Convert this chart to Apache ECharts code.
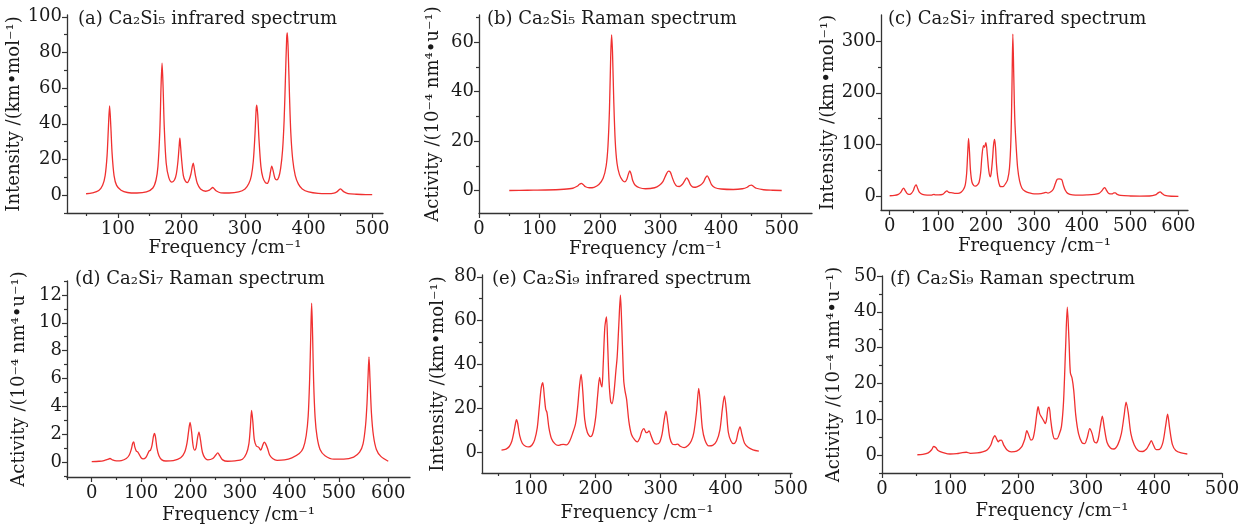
<!DOCTYPE html>
<html>
<head>
<meta charset="utf-8">
<script src="https://cdn.jsdelivr.net/npm/echarts@6/dist/echarts.min.js"></script>
<style>
  html, body { margin: 0; padding: 0; background: #fff; }
  #chart { width: 1251px; height: 527px; }
</style>
</head>
<body>
<div id="chart"></div>
<script>
// spectra: [frequency cm-1, value]
var specA = [[50,0.8],[60,1.3],[70,2.6],[76,5.5],[80,11],[83,22],[85,37],[87,50],[89,38],[91,23],[94,11],[98,5.5],[105,2.8],[115,1.5],[130,1.2],[145,1.8],[155,4],[160,8.5],[163,16],[166,36],[168,62],[169.5,74],[171,62],[173,38],[176,18],[180,10],[185,7.3],[189,8.5],[192,12],[194.5,19],[196.5,28],[197.5,32],[198.5,28],[200.5,19],[203,11],[206,8],[209,7],[212,8.5],[215,12],[217,16],[218.5,18],[220,15.5],[222,11],[225,6.5],[230,3.5],[238,2.2],[244,2.8],[247,3.8],[249,4.3],[251,3.8],[255,2.3],[262,1.3],[275,1.2],[290,1.8],[300,3.5],[306,6.5],[310,11],[313,19],[315.5,33],[317.5,48],[318.5,50.5],[320,45],[322,31],[325,16],[328,10],[332,7],[335,6.6],[338,9],[340,13],[342,16.3],[344,14],[347,9.5],[350,8.6],[353,10],[356,15],[359,25],[361.5,42],[363.5,65],[365.5,88],[366.5,91],[368,80],[370,55],[372,35],[375,20],[379,11],[384,6.2],[390,3.5],[400,1.8],[415,1],[430,0.9],[440,1.2],[445,2],[448,3],[450,3.5],[452,3],[455,2],[462,0.9],[475,0.5],[490,0.3],[500,0.3]];

var specB = [[50,0.1],[80,0.2],[110,0.3],[140,0.6],[155,1.0],[162,1.8],[166,2.6],[169,3.0],[172,2.5],[176,1.6],[182,1.2],[190,1.4],[198,2.5],[205,5],[210,10],[213,18],[215.5,33],[217.5,54],[219,63],[220.5,56],[222.5,37],[225,20],[228,11],[232,6.5],[237,4.2],[241,3.6],[244,4.5],[246.5,6.5],[249,8],[251.5,6.5],[254,4],[258,2.2],[265,1.2],[275,0.8],[290,1.2],[298,2.2],[304,3.8],[309,6.5],[313,7.9],[316,7.5],[319,5.5],[323,3],[327,1.8],[331,1.7],[336,2.6],[340,4.2],[343,5.2],[346,4.2],[350,2.2],[355,1.4],[360,1.6],[366,2.3],[371,3.6],[374,5.2],[377,6],[380,4.8],[384,2.5],[390,1.2],[400,0.7],[420,0.5],[435,0.8],[443,1.4],[447,2.1],[450,2.3],[453,1.8],[458,1],[470,0.4],[485,0.2],[500,0.1]];

var specC = [[0,1.5],[10,2],[18,4],[23,8],[26,13],[29,16],[32,12],[36,6],[40,4],[45,6],[49,11],[52,19],[55,22.5],[58,16],[62,8],[68,4],[78,2.5],[86,2.5],[90,3.5],[92,4],[95,3],[102,3],[110,4],[115,8],[119,11],[123,8],[128,7.5],[135,6],[142,6],[148,8],[153,13],[157,22],[160,45],[162,80],[164,112],[166,85],[168,50],[171,28],[175,21],[178,20],[182,22],[186,28],[189,45],[192,80],[195,98],[197,95],[200,104],[203,80],[206,50],[209,38],[211,45],[214,75],[216,100],[218,110],[220,95],[222,62],[225,35],[229,20],[233,19],[237,20],[241,25],[245,32],[249,55],[252,110],[254,200],[256,313],[258,230],[260,150],[263,95],[266,55],[270,30],[275,16],[282,10],[290,7],[300,5],[315,5.5],[321,7],[325,8],[329,6.5],[335,9],[340,14],[344,24],[348,33],[352,34],[355,33.5],[358,32],[361,22],[365,12],[370,6],[380,3],[395,2.5],[410,3],[425,4],[435,6],[441,11],[444,15],[447,17],[450,13],[454,7],[458,5],[462,5],[466,7],[469,7],[473,4],[480,2],[500,1],[520,0.8],[540,1],[552,3],[558,7],[562,9],[566,6],[572,2],[585,0.5],[600,0.3]];

var specD = [[0,0.02],[15,0.05],[25,0.1],[32,0.18],[37,0.25],[42,0.15],[50,0.08],[60,0.1],[70,0.25],[76,0.5],[80,0.9],[83,1.35],[85,1.45],[87,1.1],[90,0.8],[93,0.72],[96,0.55],[100,0.3],[104,0.22],[109,0.3],[113,0.55],[116,0.78],[119,0.85],[122,1.2],[125,1.85],[127,2.05],[129,1.8],[132,1.0],[136,0.45],[142,0.15],[150,0.07],[165,0.1],[180,0.3],[188,0.7],[193,1.4],[196,2.2],[199,2.85],[202,2.2],[205,1.2],[208,0.85],[211,1.0],[214,1.7],[217,2.15],[220,1.6],[224,0.7],[229,0.3],[235,0.15],[245,0.25],[251,0.5],[255,0.65],[259,0.45],[265,0.15],[275,0.05],[290,0.08],[305,0.2],[313,0.6],[318,1.3],[321,2.5],[323.5,3.7],[326,2.9],[329,1.6],[333,1.15],[338,1.05],[342,0.85],[346,1.2],[349,1.42],[352,1.3],[356,0.95],[360,0.5],[366,0.25],[375,0.12],[390,0.15],[405,0.3],[420,0.6],[428,1.0],[434,1.9],[438,3.3],[441,6],[443,8.8],[445,11.4],[447,9],[449,5.8],[452,3.2],[456,1.8],[462,0.9],[472,0.45],[490,0.2],[510,0.2],[530,0.35],[542,0.7],[549,1.3],[554,2.6],[557,4.2],[559,6],[561,7.55],[563,6],[566,3.5],[570,1.9],[576,0.9],[585,0.4],[600,0.05]];

var specE = [[55,0.8],[62,1.3],[67,2.5],[71,5],[74,9],[76.5,13],[78,14.8],[80,13],[83,7.5],[87,4],[92,2.6],[97,2.3],[102,3.2],[106,5.5],[110,11],[113,20],[116,29],[118.5,31.7],[121,25],[123,19.5],[125,18],[128,11],[132,6],[137,3.8],[142,3],[146,3.3],[150,3.5],[155,3.2],[160,5],[165,9],[169,13],[172,20],[175,30],[177.5,35.4],[180,28],[183,15],[187,9],[192,7],[196,9],[200,16],[203,26],[206,34],[208,31],[209.6,29.7],[211.5,40],[214,57],[216.5,61.7],[218.5,48],[220.5,32],[223,23],[225,22],[228,27],[231,37],[233,43.4],[235.5,58],[238,71.6],[240,58],[243,33],[245,28],[247.5,24],[251,14],[255,8],[260,5.5],[264,4.6],[268,6.5],[271,9.5],[274,10.7],[277,9],[279,8.8],[282,9.6],[285,7.5],[289,4.5],[293,3.6],[298,4.2],[302,8],[305,14],[308,18.6],[311,13],[314,6.5],[318,3.6],[322,3.4],[326,3.6],[330,2.6],[336,2],[342,3],[347,5],[351,9],[355,18],[358.5,29],[361,22],[364,11],[368,5.5],[374,2.8],[380,3],[386,5],[391,10],[395,20],[398,25.6],[401,19],[404,9],[408,5],[412,3.8],[416,5],[419,9],[422,11.4],[425,8],[429,4],[435,2],[442,1],[451,0.4]];

var specF = [[52,0.1],[60,0.2],[68,0.6],[73,1.5],[76,2.4],[79,2.1],[83,1.2],[90,0.7],[100,0.3],[110,0.4],[118,0.7],[124,0.8],[130,0.5],[140,0.6],[148,0.9],[155,1.5],[160,2.8],[163,4.5],[166,5.4],[169,4.3],[171,3.7],[173,4.1],[175.5,4.2],[179,2.8],[184,1.4],[190,0.9],[198,1.1],[205,2.2],[210,4.5],[213,6.8],[216,5.5],[219,4.2],[222,4.6],[225,7.5],[228,12],[229.6,13.5],[232,11.5],[235,10.5],[238,9.5],[240,8.8],[242,10],[244,13],[245.8,13.4],[248,10],[251,6],[254,4.5],[257,4.5],[261,6],[264,8.1],[267,15],[270,30],[272.5,41.3],[275,32],[277,23],[279.5,21.5],[282,18],[285,11],[289,6],[294,3.5],[298,3.2],[302,5],[305.5,7.4],[309,6],[312,3.8],[315,3.4],[318,4.5],[321,8],[324,10.9],[327,7.5],[331,3.5],[336,2],[341,1.7],[347,3],[352,6],[356,11],[359,14.8],[362,12],[366,6],[371,2.8],[377,1.2],[383,1],[389,1.7],[393,3],[396,4],[399,2.9],[403,1.5],[408,1.6],[413,3.5],[417,8],[420,11.4],[423,7.5],[427,3],[432,1.3],[440,0.6],[449,0.3]];

// tick values
var xTicks500 = [100, 200, 300, 400, 500];
var xTicks0to500 = [0, 100, 200, 300, 400, 500];
var xTicks0to600 = [0, 100, 200, 300, 400, 500, 600];
var yTicksA = [0, 20, 40, 60, 80, 100];
var yTicksB = [0, 20, 40, 60];
var yTicksC = [0, 100, 200, 300];
var yTicksD = [0, 2, 4, 6, 8, 10, 12];
var yTicksE = [0, 20, 40, 60, 80];
var yTicksF = [0, 10, 20, 30, 40, 50];

var xMinor500 = [50, 150, 250, 350, 450];
var xMinor600 = [-50, 50, 150, 250, 350, 450, 550];
var yMinorA = [-10, 10, 30, 50, 70, 90];
var yMinorB = [-10, 10, 30, 50, 70];
var yMinorC = [50, 150, 250];
var yMinorD = [-1, 1, 3, 5, 7, 9, 11, 13];
var yMinorE = [10, 30, 50, 70];
var yMinorF = [-5, 5, 15, 25, 35, 45];

var IR = 'Intensity /(km•mol⁻¹)';
var RAMAN = 'Activity /(10⁻⁴ nm⁴•u⁻¹)';

var FONT = '"DejaVu Serif", "Liberation Serif", serif';
var TEXT = '#1a1a1a';
var AXIS = '#333333';
var LINE = '#f03030';

var panels = [
  { title: '(a) Ca₂Si₅ infrared spectrum', yName: IR, data: specA,
    xMajor: xTicks500, xMinor: xMinor500, yMajor: yTicksA, yMinor: yMinorA,
    xRange: [20, 517], yRange: [-10, 101],
    box: { left: 67, top: 15, width: 316, height: 198 }, titleAt: [78, 10], yGap: 40, xGap: 26 },
  { title: '(b) Ca₂Si₅ Raman spectrum', yName: RAMAN, data: specB,
    xMajor: xTicks0to500, xMinor: xMinor500, yMajor: yTicksB, yMinor: yMinorB,
    xRange: [0, 550], yRange: [-9, 71],
    box: { left: 479, top: 15, width: 333, height: 198 }, titleAt: [487, 10], yGap: 37, xGap: 27 },
  { title: '(c) Ca₂Si₇ infrared spectrum', yName: IR, data: specC,
    xMajor: xTicks0to600, xMinor: xMinor600, yMajor: yTicksC, yMinor: yMinorC,
    xRange: [-18, 620], yRange: [-26, 350],
    box: { left: 881, top: 15, width: 307, height: 195 }, titleAt: [888, 10], yGap: 41, xGap: 27 },
  { title: '(d) Ca₂Si₇ Raman spectrum', yName: RAMAN, data: specD,
    xMajor: xTicks0to600, xMinor: xMinor600, yMajor: yTicksD, yMinor: yMinorD,
    xRange: [-50, 644], yRange: [-1.08, 13],
    box: { left: 67, top: 281, width: 343, height: 196 }, titleAt: [75, 270], yGap: 39, xGap: 29 },
  { title: '(e) Ca₂Si₉ infrared spectrum', yName: IR, data: specE,
    xMajor: xTicks500, xMinor: xMinor500, yMajor: yTicksE, yMinor: yMinorE,
    xRange: [25, 502], yRange: [-9.6, 80.8],
    box: { left: 482, top: 275, width: 310, height: 198 }, titleAt: [492, 270], yGap: 35, xGap: 31 },
  { title: '(f) Ca₂Si₉ Raman spectrum', yName: RAMAN, data: specF,
    xMajor: xTicks0to500, xMinor: xMinor500, yMajor: yTicksF, yMinor: yMinorF,
    xRange: [0, 500], yRange: [-5, 50],
    box: { left: 882, top: 276, width: 340, height: 197 }, titleAt: [890, 270], yGap: 39, xGap: 29 }
];

var labelStyle = { fontFamily: FONT, fontSize: 18, color: TEXT };

var grids = [], xAxes = [], yAxes = [], series = [], titles = [];

panels.forEach(function (p, i) {
  grids.push(p.box);
  titles.push({
    text: p.title, left: p.titleAt[0], top: p.titleAt[1], padding: 0,
    textStyle: { fontFamily: FONT, fontSize: 18, fontWeight: 'normal', color: TEXT }
  });
  // main x axis: line, major ticks, labels, name
  xAxes.push({
    type: 'value', gridIndex: i, position: 'bottom', min: p.xRange[0], max: p.xRange[1],
    name: 'Frequency /cm⁻¹', nameLocation: 'middle', nameGap: p.xGap, nameTextStyle: labelStyle,
    axisLine: { show: true, onZero: false, lineStyle: { color: AXIS, width: 1.3 } },
    axisTick: { show: true, customValues: p.xMajor, length: 5, lineStyle: { color: AXIS, width: 1.2 } },
    axisLabel: Object.assign({ customValues: p.xMajor, margin: 7 }, labelStyle),
    splitLine: { show: false }
  });
  // minor ticks only
  xAxes.push({
    type: 'value', gridIndex: i, position: 'bottom', min: p.xRange[0], max: p.xRange[1],
    axisLine: { show: false, onZero: false },
    axisTick: { show: true, customValues: p.xMinor, length: 3, lineStyle: { color: AXIS, width: 1.2 } },
    axisLabel: { show: false }, splitLine: { show: false }
  });
  yAxes.push({
    type: 'value', gridIndex: i, position: 'left', min: p.yRange[0], max: p.yRange[1],
    name: p.yName, nameLocation: 'middle', nameGap: p.yGap, nameTextStyle: labelStyle,
    axisLine: { show: true, onZero: false, lineStyle: { color: AXIS, width: 1.3 } },
    axisTick: { show: true, customValues: p.yMajor, length: 5, lineStyle: { color: AXIS, width: 1.2 } },
    axisLabel: Object.assign({ customValues: p.yMajor, margin: 5 }, labelStyle),
    splitLine: { show: false }
  });
  yAxes.push({
    type: 'value', gridIndex: i, position: 'left', min: p.yRange[0], max: p.yRange[1],
    axisLine: { show: false, onZero: false },
    axisTick: { show: true, customValues: p.yMinor, length: 3, lineStyle: { color: AXIS, width: 1.2 } },
    axisLabel: { show: false }, splitLine: { show: false }
  });
  series.push({
    type: 'line', xAxisIndex: 2 * i, yAxisIndex: 2 * i, data: p.data,
    showSymbol: false, smooth: 0.3, silent: true,
    lineStyle: { color: LINE, width: 1.3 }
  });
});

var chart = echarts.init(document.getElementById('chart'));
chart.setOption({
  backgroundColor: '#ffffff',
  animation: false,
  title: titles,
  grid: grids,
  xAxis: xAxes,
  yAxis: yAxes,
  series: series
});
</script>
</body>
</html>
